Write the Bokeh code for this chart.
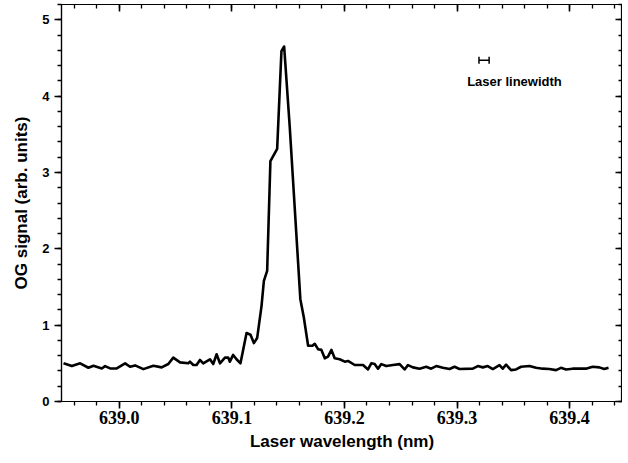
from bokeh.plotting import figure
from bokeh.models import (Range1d, LinearAxis, SingleIntervalTicker, NumeralTickFormatter,
                          CustomJSTickFormatter, Whisker, TeeHead, ColumnDataSource)
from bokeh.core.properties import value
from bokeh.embed import file_html
from bokeh.resources import INLINE

# ---- data ----
wavelength_nm = [
    638.9504, 638.9578, 638.9652, 638.9725, 638.9770, 638.9844, 638.9873, 638.9918, 638.9977,
    639.0051, 639.0095, 639.0140, 639.0213, 639.0302, 639.0376, 639.0435, 639.0479, 639.0539,
    639.0612, 639.0627, 639.0657, 639.0686, 639.0716, 639.0745, 639.0805, 639.0834, 639.0864,
    639.0894, 639.0938, 639.0967, 639.0982, 639.1011, 639.1041, 639.1076, 639.1130, 639.1165,
    639.1195, 639.1224, 639.1263, 639.1284, 639.1313, 639.1342, 639.1402, 639.1440, 639.1464,
    639.1514, 639.1608, 639.1639, 639.1677, 639.1715, 639.1736, 639.1765, 639.1795, 639.1825,
    639.1854, 639.1884, 639.1913, 639.1958, 639.2002, 639.2031, 639.2091, 639.2165, 639.2209,
    639.2238, 639.2268, 639.2298, 639.2327, 639.2371, 639.2431, 639.2490, 639.2534, 639.2564,
    639.2608, 639.2667, 639.2726, 639.2770, 639.2815, 639.2874, 639.2933, 639.2978, 639.3022,
    639.3140, 639.3185, 639.3229, 639.3273, 639.3318, 639.3377, 639.3406, 639.3436, 639.3480,
    639.3524, 639.3569, 639.3643, 639.3702, 639.3761, 639.3820, 639.3879, 639.3923, 639.3968,
    639.4027, 639.4087, 639.4145, 639.4205, 639.4264, 639.4308, 639.4346,
]
og_signal = [
    0.50, 0.464, 0.50, 0.442, 0.469, 0.433, 0.464, 0.433, 0.433,
    0.50, 0.455, 0.473, 0.424, 0.469, 0.447, 0.491, 0.575, 0.513,
    0.50, 0.522, 0.478, 0.478, 0.544, 0.50, 0.553, 0.491, 0.619,
    0.50, 0.575, 0.575, 0.522, 0.610, 0.553, 0.50, 0.897, 0.875,
    0.765, 0.831, 1.25, 1.58, 1.71, 3.15, 3.31, 4.59, 4.65,
    3.59, 1.34, 1.10, 0.73, 0.73, 0.756, 0.685, 0.676, 0.566,
    0.588, 0.676, 0.566, 0.553, 0.522, 0.531, 0.478, 0.478, 0.42,
    0.50, 0.49, 0.43, 0.49, 0.464, 0.477, 0.49, 0.42, 0.477,
    0.447, 0.43, 0.455, 0.43, 0.464, 0.441, 0.425, 0.455, 0.425,
    0.43, 0.464, 0.447, 0.464, 0.425, 0.477, 0.43, 0.482, 0.411,
    0.42, 0.455, 0.464, 0.441, 0.43, 0.425, 0.411, 0.441, 0.42,
    0.43, 0.43, 0.43, 0.455, 0.447, 0.425, 0.441,
]
x_limits = [638.9486, 639.447]
y_limits = [0.0, 5.2]
laser_center_nm = [639.324]
laser_halfwidth_nm = [0.0045]
laser_marker_y = [4.47]
laser_label_x = [639.351]
laser_label_y = [4.19]
laser_label = ["Laser linewidth"]

x_title = "Laser wavelength (nm)"
y_title = "OG signal (arb. units)"

SANS = "Liberation Sans"
SERIF = "Liberation Serif"
TICK = "black"

p = figure(width=622, height=453, output_backend="svg", toolbar_location=None,
           x_range=Range1d(*x_limits), y_range=Range1d(*y_limits),
           min_border_left=61, min_border_top=4, min_border_right=0, min_border_bottom=0)
p.xgrid.visible = False
p.ygrid.visible = False
p.outline_line_color = "black"
p.outline_line_width = 1.2
p.background_fill_color = "white"
p.border_fill_color = "white"

xa = p.xaxis[0]
xa.ticker = SingleIntervalTicker(interval=0.1, num_minor_ticks=5)
xa.formatter = NumeralTickFormatter(format="0.0")
xa.axis_label = x_title
xa.major_label_text_font = SERIF
xa.major_label_text_font_style = "bold"
xa.major_label_text_font_size = "18px"
xa.major_label_standoff = 2
xa.axis_label_text_font = SANS
xa.axis_label_text_font_style = "bold"
xa.axis_label_text_font_size = "17px"
xa.axis_label_standoff = 5

ya = p.yaxis[0]
ya.ticker = SingleIntervalTicker(interval=1, num_minor_ticks=5)
ya.axis_label = y_title
ya.major_label_text_font = SANS
ya.major_label_text_font_style = "bold"
ya.major_label_text_font_size = "13px"
ya.major_label_standoff = 5
ya.axis_label_text_font = SANS
ya.axis_label_text_font_style = "bold"
ya.axis_label_text_font_size = "17px"
ya.axis_label_standoff = 8

for ax in (xa, ya):
    ax.axis_line_color = "black"
    ax.axis_line_width = 1.2
    ax.major_tick_line_color = TICK
    ax.minor_tick_line_color = TICK
    ax.major_tick_line_width = 1.6
    ax.minor_tick_line_width = 1.3
    ax.major_tick_out = 7
    ax.major_tick_in = 0
    ax.minor_tick_out = 4
    ax.minor_tick_in = 0
    ax.major_label_text_color = "black"
    ax.axis_label_text_color = "black"

blank = CustomJSTickFormatter(code="return '';")
top = LinearAxis(ticker=SingleIntervalTicker(interval=0.1, num_minor_ticks=5), formatter=blank)
right = LinearAxis(ticker=SingleIntervalTicker(interval=1, num_minor_ticks=5), formatter=blank)
for ax in (top, right):
    ax.axis_line_color = "black"
    ax.axis_line_width = 1.2
    ax.major_tick_line_color = TICK
    ax.minor_tick_line_color = TICK
    ax.major_tick_line_width = 1.6
    ax.minor_tick_line_width = 1.3
    ax.major_tick_out = 0
    ax.major_tick_in = 7
    ax.minor_tick_out = 0
    ax.minor_tick_in = 4
    ax.major_label_standoff = 0
    ax.axis_label_standoff = 0
    ax.major_label_text_font_size = "1px"
p.add_layout(top, "above")
p.add_layout(right, "right")

p.line(wavelength_nm, og_signal, line_color="black", line_width=2.6, line_join="round")

src = ColumnDataSource(dict(
    base=laser_marker_y,
    lower=[c - h for c, h in zip(laser_center_nm, laser_halfwidth_nm)],
    upper=[c + h for c, h in zip(laser_center_nm, laser_halfwidth_nm)],
))
w = Whisker(source=src, base="base", lower="lower", upper="upper", dimension="width",
            line_color="black", line_width=1.5,
            lower_head=TeeHead(size=7, line_color="black", line_width=1.5),
            upper_head=TeeHead(size=7, line_color="black", line_width=1.5))
p.add_layout(w)

p.text(x=laser_label_x, y=laser_label_y, text=laser_label,
       text_font=value(SANS), text_font_style="bold", text_font_size="13px",
       text_align="center", text_baseline="middle", text_color="black")

open("out.html", "w").write(file_html(p, INLINE))
